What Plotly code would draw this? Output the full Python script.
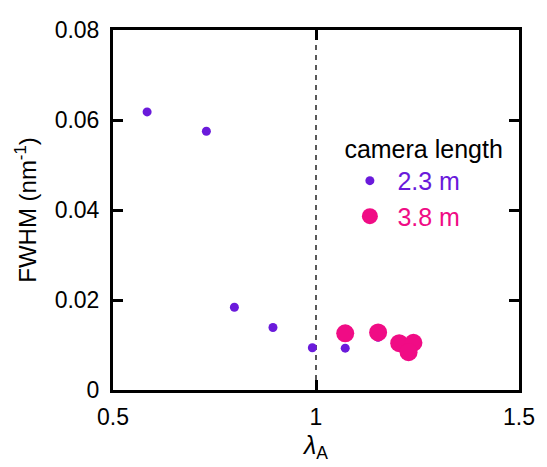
import plotly.graph_objects as go

lam_23 = [0.584, 0.730, 0.799, 0.894, 0.991, 1.072, 1.153]
fwhm_23 = [0.0618, 0.0575, 0.0184, 0.0139, 0.0094, 0.0093, 0.0117]
lam_38 = [1.072, 1.153, 1.205, 1.240, 1.228]
fwhm_38 = [0.0126, 0.0128, 0.0104, 0.0105, 0.0084]

x_ticks = [0.5, 1, 1.5]
x_tick_text = ["0.5", "1", "1.5"]
y_ticks = [0, 0.02, 0.04, 0.06, 0.08]
y_tick_text = ["0", "0.02", "0.04", "0.06", "0.08"]

purple = "#6A1ADB"
pink = "#F00C85"
FONT = "Liberation Sans, Arial"

fig = go.Figure()
fig.add_trace(go.Scatter(
    x=lam_23, y=fwhm_23, mode="markers",
    marker=dict(size=9, color=purple),
    name=f"<span style='color:{purple}'>2.3 m</span>",
))
fig.add_trace(go.Scatter(
    x=lam_38, y=fwhm_38, mode="markers",
    marker=dict(size=18, color=pink),
    name=f"<span style='color:{pink}'>3.8 m</span>",
))

fig.add_shape(type="line", xref="x", yref="paper", x0=1, x1=1, y0=0, y1=1,
              line=dict(color="black", width=1.3, dash="5px,5px"), layer="below")

axis_common = dict(
    showline=True, linecolor="black", linewidth=3, mirror="ticks",
    ticks="inside", ticklen=10, tickwidth=2.5, tickcolor="black",
    showgrid=False, zeroline=False,
    tickfont=dict(family=FONT, size=23, color="black"),
)

fig.update_xaxes(range=[0.5, 1.5], tickvals=x_ticks, ticktext=x_tick_text,
                 ticklabelstandoff=4,
                 title=dict(text="<i>λ</i><sub>A</sub>", standoff=8,
                            font=dict(family=FONT, size=25, color="black")),
                 **axis_common)
fig.update_yaxes(range=[0, 0.08], tickvals=y_ticks, ticktext=y_tick_text,
                 ticklabelstandoff=6,
                 title=dict(text="FWHM (nm<sup>-1</sup>)", standoff=12,
                            font=dict(family=FONT, size=24, color="black")),
                 **axis_common)

fig.update_layout(
    width=547, height=467,
    margin=dict(l=113, r=20, t=30, b=75),
    plot_bgcolor="white", paper_bgcolor="white",
    font=dict(family=FONT, size=24, color="black"),
    showlegend=True,
    legend=dict(
        title=dict(text="camera length", font=dict(family=FONT, size=25, color="black")),
        x=0.565, y=0.735, xanchor="left", yanchor="top",
        bgcolor="rgba(0,0,0,0)", font=dict(family=FONT, size=25),
        itemsizing="trace", tracegroupgap=0, itemwidth=45,
    ),
)

fig.write_html("out.html")
